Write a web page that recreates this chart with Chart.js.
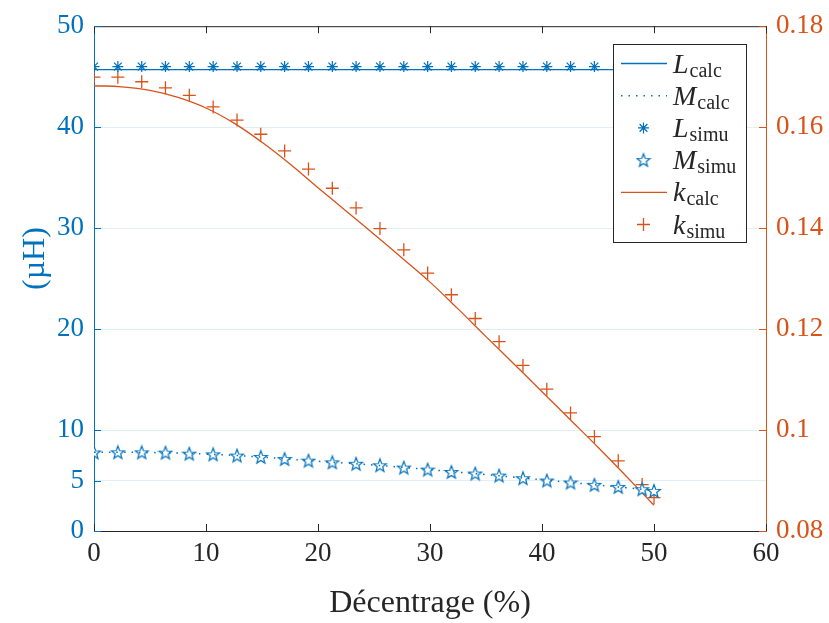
<!DOCTYPE html>
<html>
<head>
<meta charset="utf-8">
<script src="https://cdn.jsdelivr.net/npm/chart.js@4/dist/chart.umd.min.js"></script>
<style>
  html, body { margin: 0; padding: 0; background: #fff; }
  #chart { display: block; }
</style>
</head>
<body>
<canvas id="chart" width="829" height="623"></canvas>
<script>
"use strict";

// simulated points (x in %)
const simuX = [0, 2.13, 4.26, 6.38, 8.51, 10.64, 12.77, 14.89, 17.02, 19.15, 21.28, 23.40, 25.53,
  27.66, 29.79, 31.91, 34.04, 36.17, 38.30, 40.43, 42.55, 44.68, 46.81, 48.94, 50];
const lSimu = [46.0, 46.0, 46.0, 46.0, 46.0, 46.0, 46.0, 46.0, 46.0, 46.0, 46.0, 46.0, 46.0,
  46.0, 46.0, 46.0, 46.0, 46.0, 46.0, 46.0, 46.0, 46.0, 46.0, 46.0, 46.0];
const mSimu = [7.78, 7.80, 7.79, 7.76, 7.66, 7.59, 7.47, 7.33, 7.13, 6.97, 6.80, 6.66, 6.51,
  6.28, 6.08, 5.85, 5.69, 5.49, 5.23, 5.00, 4.80, 4.57, 4.37, 4.14, 3.97];
const kSimu = [0.1699, 0.1699, 0.1690, 0.1678, 0.1663, 0.1640, 0.1614, 0.1586, 0.1553, 0.1517,
  0.1479, 0.1440, 0.1399, 0.1357, 0.1311, 0.1268, 0.1221, 0.1175, 0.1128, 0.1081, 0.1034,
  0.0987, 0.0939, 0.0892, 0.0866];

// calculated curves
const calcX = [0, 2.5, 5, 7.5, 10, 12.5, 15, 17.5, 20, 22.5, 25, 27.5, 30, 32.5, 35, 37.5, 40,
  42.5, 45, 47.5, 50];
const lCalc = [45.7, 45.7, 45.7, 45.7, 45.7, 45.7, 45.7, 45.7, 45.7, 45.7, 45.7, 45.7, 45.7,
  45.7, 45.7, 45.7, 45.7, 45.7, 45.7, 45.7, 45.7];
const mCalc = [7.80, 7.80, 7.77, 7.72, 7.62, 7.49, 7.32, 7.11, 6.91, 6.72, 6.53, 6.31, 6.07,
  5.83, 5.59, 5.33, 5.07, 4.81, 4.55, 4.29, 4.02];
const kCalc = [0.1682, 0.1680, 0.1673, 0.1659, 0.1638, 0.1608, 0.1570, 0.1527, 0.1480, 0.1434,
  0.1388, 0.1341, 0.1293, 0.1240, 0.1185, 0.1131, 0.1076, 0.1021, 0.0966, 0.0909, 0.0851];

const xTicks = [0, 10, 20, 30, 40, 50, 60];
const leftTicks = [0, 5, 10, 20, 30, 40, 50];
const rightTicks = [0.08, 0.10, 0.12, 0.14, 0.16, 0.18];

const legendMain = ["L", "M", "L", "M", "k", "k"];
const legendSub = ["calc", "calc", "simu", "simu", "calc", "simu"];

const BLUE = "#0072BD";
const ORANGE = "#D95319";
const DARK = "#262626";
const SERIF = "'Liberation Serif', 'DejaVu Serif', serif";

function pts(xs, ys) {
  return xs.map((x, i) => ({ x: x, y: ys[i] }));
}

// five pointed hollow star marker
function makeStar(size, color) {
  const c = document.createElement("canvas");
  c.width = size; c.height = size;
  const g = c.getContext("2d");
  const cx = size / 2, cy = size / 2 + 0.6;
  const R = size / 2 - 1.2, r = R * 0.42;
  g.beginPath();
  for (let i = 0; i < 10; i++) {
    const a = -Math.PI / 2 + i * Math.PI / 5;
    const rr = i % 2 === 0 ? R : r;
    const px = cx + rr * Math.cos(a), py = cy + rr * Math.sin(a);
    if (i === 0) g.moveTo(px, py); else g.lineTo(px, py);
  }
  g.closePath();
  g.fillStyle = "#fff";
  g.fill();
  g.strokeStyle = color;
  g.lineWidth = 1.2;
  g.stroke();
  return c;
}
const starImg = makeStar(16, BLUE);

// MATLAB like box: inward ticks, top line
const boxPlugin = {
  id: "box",
  afterDatasetsDraw(chart) {
    const ctx = chart.ctx, a = chart.chartArea;
    const sx = chart.scales.x, sy = chart.scales.y, sy1 = chart.scales.y1;
    const len = 7;
    ctx.save();
    ctx.lineWidth = 1;
    ctx.strokeStyle = DARK;
    ctx.beginPath();
    ctx.moveTo(a.left, a.top + 0.5);
    ctx.lineTo(a.right, a.top + 0.5);
    sx.ticks.forEach(t => {
      const px = Math.round(sx.getPixelForValue(t.value)) + 0.5;
      ctx.moveTo(px, a.bottom); ctx.lineTo(px, a.bottom - len);
      ctx.moveTo(px, a.top); ctx.lineTo(px, a.top + len);
    });
    ctx.stroke();
    ctx.strokeStyle = BLUE;
    ctx.beginPath();
    sy.ticks.forEach(t => {
      const py = Math.round(sy.getPixelForValue(t.value)) + 0.5;
      ctx.moveTo(a.left, py); ctx.lineTo(a.left + len, py);
    });
    ctx.stroke();
    ctx.strokeStyle = ORANGE;
    ctx.beginPath();
    sy1.ticks.forEach(t => {
      const py = Math.round(sy1.getPixelForValue(t.value)) + 0.5;
      ctx.moveTo(a.right, py); ctx.lineTo(a.right - len, py);
    });
    ctx.stroke();
    ctx.restore();
  }
};

// legend with subscripts
const legendPlugin = {
  id: "texLegend",
  afterDraw(chart) {
    const ctx = chart.ctx;
    const bx = 613.5, by = 44.5, bw = 133, bh = 198;
    const row0 = 63.5, step = 32.2;
    ctx.save();
    ctx.fillStyle = "#fff";
    ctx.fillRect(bx, by, bw, bh);
    ctx.strokeStyle = DARK;
    ctx.lineWidth = 1;
    ctx.strokeRect(bx, by, bw, bh);
    chart.data.datasets.forEach((ds, i) => {
      const y = row0 + i * step;
      const color = ds.borderColor;
      ctx.strokeStyle = color;
      if (ds.pointRadius === 0) {
        ctx.lineWidth = ds.borderWidth;
        ctx.setLineDash(ds.borderDash || []);
        ctx.beginPath();
        ctx.moveTo(621, y);
        ctx.lineTo(667, y);
        ctx.stroke();
        ctx.setLineDash([]);
      } else if (ds.pointStyle === "star") {
        ctx.lineWidth = ds.pointBorderWidth;
        const r = ds.pointRadius;
        ctx.beginPath();
        for (let k = 0; k < 4; k++) {
          const ang = k * Math.PI / 4;
          ctx.moveTo(643.5 - r * Math.cos(ang), y - r * Math.sin(ang));
          ctx.lineTo(643.5 + r * Math.cos(ang), y + r * Math.sin(ang));
        }
        ctx.stroke();
      } else if (ds.pointStyle === "cross") {
        ctx.lineWidth = ds.pointBorderWidth;
        const r = ds.pointRadius;
        ctx.beginPath();
        ctx.moveTo(643.5 - r, y); ctx.lineTo(643.5 + r, y);
        ctx.moveTo(643.5, y - r); ctx.lineTo(643.5, y + r);
        ctx.stroke();
      } else {
        ctx.drawImage(starImg, 643.5 - starImg.width / 2, y - starImg.height / 2);
      }
      ctx.fillStyle = DARK;
      ctx.textBaseline = "alphabetic";
      ctx.font = "italic 28px " + SERIF;
      ctx.fillText(legendMain[i], 673, y + 9);
      const w = ctx.measureText(legendMain[i]).width;
      ctx.font = "20px " + SERIF;
      ctx.fillText(legendSub[i], 673 + w + 1, y + 13);
    });
    ctx.restore();
  }
};

const ctxC = document.getElementById("chart").getContext("2d");
const myChart = new Chart(ctxC, {
  type: "line",
  data: {
    datasets: [
      {
        label: "L calc",
        data: pts(calcX, lCalc),
        borderColor: BLUE,
        borderWidth: 1.3,
        pointRadius: 0,
        yAxisID: "y"
      },
      {
        label: "M calc",
        data: pts(calcX, mCalc),
        borderColor: BLUE,
        borderWidth: 1.5,
        borderDash: [1.5, 6],
        pointRadius: 0,
        tension: 0.4,
        yAxisID: "y"
      },
      {
        label: "L simu",
        data: pts(simuX, lSimu),
        borderColor: BLUE,
        showLine: false,
        pointStyle: "star",
        pointRadius: 5.5,
        pointBorderWidth: 1.2,
        pointBorderColor: BLUE,
        yAxisID: "y"
      },
      {
        label: "M simu",
        data: pts(simuX, mSimu),
        borderColor: BLUE,
        showLine: false,
        pointStyle: starImg,
        pointRadius: 7,
        yAxisID: "y"
      },
      {
        label: "k calc",
        data: pts(calcX, kCalc),
        borderColor: ORANGE,
        borderWidth: 1.3,
        pointRadius: 0,
        tension: 0.4,
        yAxisID: "y1"
      },
      {
        label: "k simu",
        data: pts(simuX, kSimu),
        borderColor: ORANGE,
        showLine: false,
        pointStyle: "cross",
        pointRadius: 6.5,
        pointBorderWidth: 1.3,
        pointBorderColor: ORANGE,
        yAxisID: "y1"
      }
    ]
  },
  options: {
    responsive: false,
    animation: false,
    devicePixelRatio: 1,
    layout: { padding: { top: 24, left: 0, right: 0, bottom: 0 } },
    plugins: {
      legend: { display: false },
      tooltip: { enabled: false }
    },
    scales: {
      x: {
        type: "linear",
        min: 0,
        max: 60,
        afterBuildTicks: s => { s.ticks = xTicks.map(v => ({ value: v })); },
        afterFit: s => { s.height = 92; },
        grid: { display: false, drawTicks: false },
        border: { color: DARK, width: 1 },
        ticks: { color: DARK, font: { family: SERIF, size: 27 }, padding: 7 },
        title: {
          display: true,
          text: "Décentrage (%)",
          color: DARK,
          font: { family: SERIF, size: 32 },
          padding: { top: 0, bottom: 0 }
        }
      },
      y: {
        type: "linear",
        position: "left",
        min: 0,
        max: 50,
        afterBuildTicks: s => { s.ticks = leftTicks.map(v => ({ value: v })); },
        afterFit: s => { s.width = 94; },
        grid: { color: "rgba(0,114,189,0.12)", drawTicks: false },
        border: { color: BLUE, width: 1 },
        ticks: { color: BLUE, font: { family: SERIF, size: 27 }, padding: 10 },
        title: {
          display: true,
          text: "     (µH)",
          color: BLUE,
          font: { family: SERIF, size: 32 },
          padding: { top: 16, bottom: 0 }
        }
      },
      y1: {
        type: "linear",
        position: "right",
        min: 0.08,
        max: 0.18,
        afterBuildTicks: s => { s.ticks = rightTicks.map(v => ({ value: v })); },
        afterFit: s => { s.width = 63; },
        grid: { display: false, drawTicks: false },
        border: { color: ORANGE, width: 1 },
        ticks: {
          color: ORANGE,
          font: { family: SERIF, size: 27 },
          padding: 10,
          callback: v => String(+v.toFixed(2))
        }
      }
    }
  },
  plugins: [boxPlugin, legendPlugin]
});
</script>
</body>
</html>
